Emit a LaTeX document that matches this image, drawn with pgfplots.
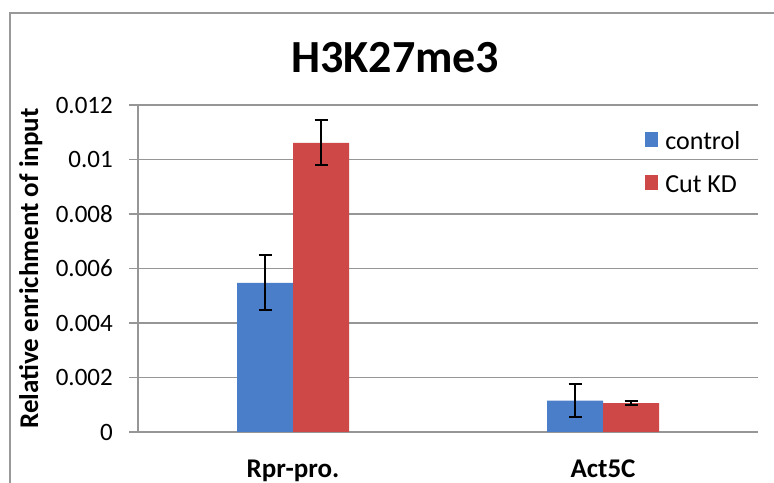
\documentclass[border=0pt]{standalone}
\usepackage{fontspec}
\setmainfont{Carlito}
\usepackage{pgfplots}
\pgfplotsset{compat=1.18}
\definecolor{xlblue}{RGB}{74,126,200}
\definecolor{xlred}{RGB}{206,72,72}
\definecolor{gridgray}{RGB}{150,150,150}
\begin{document}
\begin{tikzpicture}
\useasboundingbox (0,0) rectangle (774bp,483bp);
\fill[white] (0,0) rectangle (774bp,483bp);
\draw[gray!80, line width=1.5bp] (10bp,-20bp) -- (10bp,470bp) -- (800bp,470bp);
\begin{axis}[
  at={(138bp,51bp)}, anchor=south west,
  scale only axis, width=620bp, height=327bp,
  ybar=0pt, bar width=56bp,
  xmin=-0.5, xmax=1.5, ymin=0, ymax=0.012,
  xtick={0,1}, xticklabels={Rpr-pro.,Act5C},
  xtick style={draw=none},
  ytick={0,0.002,0.004,0.006,0.008,0.01,0.012},
  yticklabels={0,0.002,0.004,0.006,0.008,0.01,0.012},
  scaled y ticks=false,
  axis x line*=bottom, axis y line*=left,
  axis line style={gridgray, line width=1.2bp, -},
  ymajorgrids, grid style={gridgray, line width=1.2bp},
  y tick style={gridgray, line width=1.2bp},
  tick align=outside, major tick length=9bp,
  yticklabel style={font=\fontsize{25bp}{30bp}\selectfont, anchor=east, inner sep=0pt, xshift=-16bp},
  xticklabel style={font=\bfseries\fontsize{27bp}{32bp}\selectfont, anchor=base, inner sep=0pt, yshift=-36bp},
  ylabel={Relative enrichment of input},
  ylabel style={font=\bfseries\fontsize{27bp}{32bp}\selectfont, at={(axis description cs:-0.173,0.5)}, anchor=center, inner sep=0pt},
  title={H3K27me3},
  title style={font=\bfseries\fontsize{46bp}{54bp}\selectfont, at={(axis description cs:0.415,1)}, anchor=base, inner sep=0pt, yshift=27bp},
  legend style={draw=none, fill=none, inner sep=0pt, at={(axis description cs:0.818,0.818)}, anchor=west,
    font=\fontsize{26bp}{30bp}\selectfont, row sep=21bp,
    nodes={inner sep=0pt, text height=17bp, text depth=5bp},
    /tikz/every odd column/.append style={column sep=7bp}},
  legend cell align=left,
  legend image code/.code={\fill[#1] (0bp,-4bp) rectangle (13bp,11bp);},
  error bars/y dir=both, error bars/y explicit,
  error bars/error bar style={black, line width=2bp},
  error bars/error mark options={black, line width=2bp, rotate=90, mark size=6.5bp},
]
\addplot[fill=xlblue, draw=none] coordinates {(0,0.00547) +- (0,0.00101) (1,0.00115) +- (0,0.00060)};
\addplot[fill=xlred, draw=none] coordinates {(0,0.01061) +- (0,0.00083) (1,0.00106) +- (0,0.00007)};
\legend{control,Cut KD}
\end{axis}
\end{tikzpicture}
\end{document}
